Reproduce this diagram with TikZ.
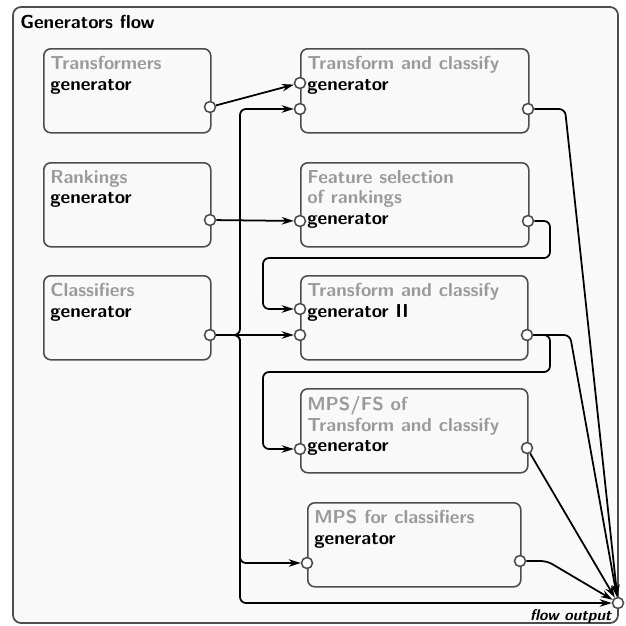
\documentclass[tikz,border=0pt]{standalone}
\usepackage{tikz}
\usetikzlibrary{arrows.meta, positioning}
\definecolor{framefill}{HTML}{F9F9F9}
\definecolor{edgegray}{HTML}{4D4D4D}
\definecolor{titlegray}{HTML}{9A9A9A}
\newcommand{\gtitle}[1]{\textcolor{titlegray}{#1}}
\newcommand{\boxfont}{\fontsize{10.7pt}{11.7pt}\selectfont\sffamily\bfseries}
\tikzstyle{frame} = [draw=edgegray, line width=1pt, fill=framefill, rounded corners=0.16cm]
\tikzstyle{block} = [rectangle, anchor=north west, minimum width=3.34cm, minimum height=1.68cm, rounded corners=0.14cm, draw=edgegray, line width=0.9pt, fill=framefill]
\tikzstyle{blocktext} = [anchor=north west, align=left, inner sep=0pt, xshift=0.14cm, yshift=-0.16cm, font=\boxfont]
\tikzstyle{port} = [circle, minimum size=0.22cm, inner sep=0pt, draw=edgegray, line width=0.9pt, fill=white]
\tikzstyle{arrow} = [->, >={Stealth[length=2.4mm, width=1.5mm]}, line width=1pt, rounded corners=0.12cm]

\begin{document}
\begin{tikzpicture}

    \useasboundingbox (0, 0) rectangle (12.52, -12.52);
    \draw [frame] (0.26, -0.14) rectangle (12.36, -12.46);
    \node (flowtitle) [anchor=north west, inner sep=0pt, font=\boxfont] at (0.4, -0.3) {Generators flow};

    % left column
    \node (transformers) [block] at (0.86, -0.96) {};
    \node (transformerstxt) [blocktext] at (transformers.north west) {\gtitle{Transformers}\\generator};
    \node (rankings) [block] at (0.86, -3.24) {};
    \node (rankingstxt) [blocktext] at (rankings.north west) {\gtitle{Rankings}\\generator};
    \node (classifiers) [block] at (0.86, -5.5) {};
    \node (classifierstxt) [blocktext] at (classifiers.north west) {\gtitle{Classifiers}\\generator};

    % right column
    \node (tc) [block, minimum width=4.56cm] at (6.0, -0.96) {};
    \node (tctxt) [blocktext] at (tc.north west) {\gtitle{Transform and classify}\\generator};
    \node (fs) [block, minimum width=4.56cm] at (6.0, -3.24) {};
    \node (fstxt) [blocktext] at (fs.north west) {\gtitle{Feature selection}\\\gtitle{of rankings}\\generator};
    \node (tctwo) [block, minimum width=4.54cm] at (6.0, -5.5) {};
    \node (tctwotxt) [blocktext] at (tctwo.north west) {\gtitle{Transform and classify}\\generator II};
    \node (mpsfs) [block, minimum width=4.54cm] at (6.0, -7.76) {};
    \node (mpsfstxt) [blocktext] at (mpsfs.north west) {\gtitle{MPS/FS of}\\\gtitle{Transform and classify}\\generator};
    \node (mpscl) [block, minimum width=4.26cm] at (6.14, -10.04) {};
    \node (mpscltxt) [blocktext] at (mpscl.north west) {\gtitle{MPS for classifiers}\\generator};

    % ports
    \node (transformersout) [port] at (4.2, -2.14) {};
    \node (rankingsout) [port] at (4.2, -4.4) {};
    \node (classifiersout) [port] at (4.2, -6.7) {};
    \node (tcin1) [port] at (6.0, -1.66) {};
    \node (tcin2) [port] at (6.0, -2.18) {};
    \node (tcout) [port] at (10.56, -2.18) {};
    \node (fsin) [port] at (6.0, -4.42) {};
    \node (fsout) [port] at (10.56, -4.42) {};
    \node (tctwoin1) [port] at (6.0, -6.18) {};
    \node (tctwoin2) [port] at (6.0, -6.7) {};
    \node (tctwoout) [port] at (10.54, -6.7) {};
    \node (mpsfsin) [port] at (6.0, -8.98) {};
    \node (mpsfsout) [port] at (10.54, -8.96) {};
    \node (mpsclin) [port] at (6.14, -11.26) {};
    \node (mpsclout) [port] at (10.4, -11.22) {};
    \node (flow) [port] at (12.36, -12.06) {};
    \node (flowlabel) [anchor=north east, inner sep=1pt, font=\fontsize{8.8pt}{10pt}\selectfont\sffamily\bfseries\itshape] at (flow.south west) {flow output};

    \coordinate (split) at (4.8, -6.7);

    \draw [arrow] (transformersout) -- (tcin1);
    \draw [arrow] (rankingsout) -- (fsin);
    \draw [arrow] (classifiersout) -- (tctwoin2);
    \draw [arrow] (classifiersout) -- (split) |- (tcin2);
    \draw [arrow] (classifiersout) -- (split) |- (mpsclin);
    \draw [arrow] (classifiersout) -- (split) |- (flow);

    \draw [arrow] (fsout) -| (11.0, -5.16) -| (5.26, -6.18) -- (tctwoin1);
    \draw [arrow] (tctwoout) -| (11.0, -7.44) -| (5.26, -8.98) -- (mpsfsin);

    \draw [arrow] (tcout) -- (11.3, -2.18) -- (flow);
    \draw [arrow] (tctwoout) -- (11.4, -6.7) -- (flow);
    \draw [arrow] (mpsfsout) -- (flow);
    \draw [arrow] (mpsclout) -- (10.94, -11.22) -- (flow);

\end{tikzpicture}
\end{document}
